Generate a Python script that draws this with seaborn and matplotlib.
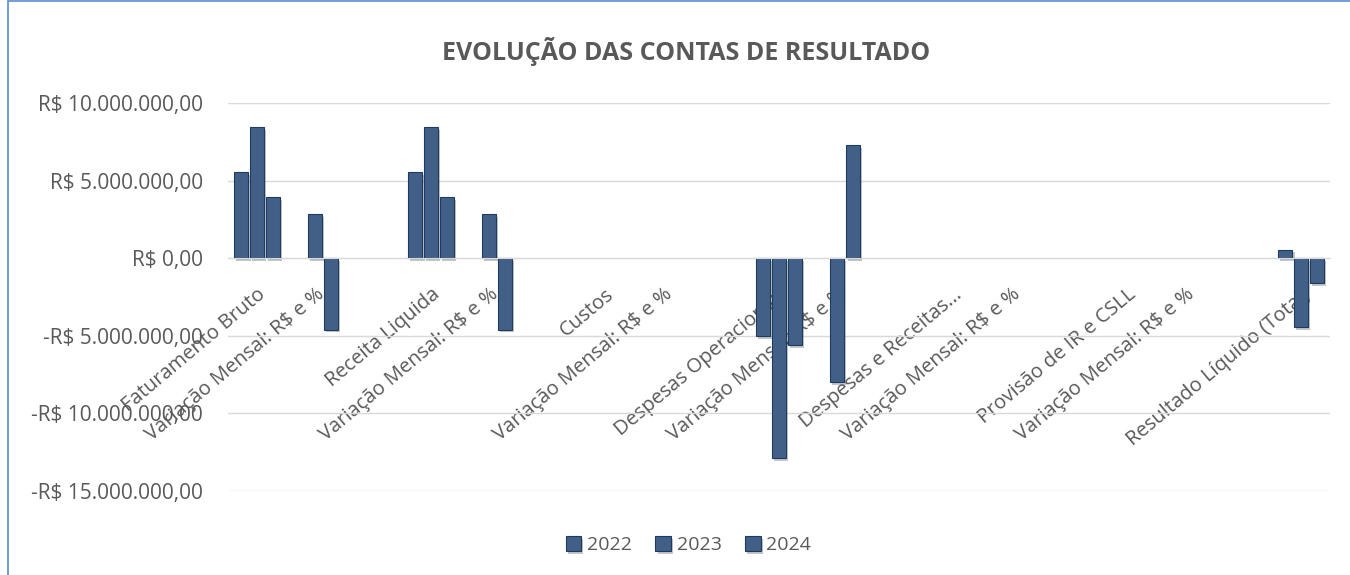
import matplotlib
matplotlib.use("Agg")
import matplotlib.pyplot as plt
import matplotlib.patheffects as pe
from matplotlib.patches import Rectangle
from matplotlib.ticker import FuncFormatter
import seaborn as sns
import pandas as pd

# categories (blank spacer columns between each pair, as in the sheet)
labels = ["Faturamento Bruto", "Variação Mensal: R$ e %", "",
          "Receita Liquida", "Variação Mensal: R$ e %", "",
          "Custos", "Variação Mensal: R$ e %", "",
          "Despesas Operacionais", "Variação Mensal: R$ e %", "",
          "Despesas e Receitas...", "Variação Mensal: R$ e %", "",
          "Provisão de IR e CSLL", "Variação Mensal: R$ e %", "",
          "Resultado Líquido (Total)"]
years = ["2022", "2023", "2024"]

# values in R$ (None = empty cell)
v2022 = [5570000, None, None, 5570000, None, None, None, None, None,
         -5000000, None, None, None, None, None, None, None, None, 550000]
v2023 = [8430000, 2820000, None, 8430000, 2820000, None, None, None, None,
         -12900000, -8000000, None, None, None, None, None, None, None, -4450000]
v2024 = [3920000, -4600000, None, 3920000, -4600000, None, None, None, None,
         -5600000, 7300000, None, None, None, None, None, None, None, -1600000]

keys = [str(i) for i in range(len(labels))]
df = pd.DataFrame({
    "cat": keys * 3,
    "ano": [y for y in years for _ in keys],
    "valor": v2022 + v2023 + v2024,
})

sns.set_style("white")
plt.rcParams["font.family"] = ["Open Sans", "DejaVu Sans"]
grey = "#595959"
bar_col = "#365F92"

fig = plt.figure(figsize=(13.5, 5.75), dpi=100)
ax = fig.add_axes([228 / 1350, 1 - 491 / 575, 1102 / 1350, 388 / 575])

sns.barplot(data=df, x="cat", y="valor", hue="ano", order=keys, hue_order=years,
            palette=[bar_col] * 3, width=0.82, gap=0.08, errorbar=None,
            edgecolor="#1F3B60", linewidth=0.8, ax=ax, legend=True)

for p in ax.patches:
    p.set_path_effects([pe.SimplePatchShadow(offset=(1.5, -2), alpha=0.25), pe.Normal()])

ax.set_ylim(-15000000, 10000000)
ax.set_yticks([10000000, 5000000, 0, -5000000, -10000000, -15000000])


def brl(v, pos):
    s = f"{abs(v):,.2f}".replace(",", "X").replace(".", ",").replace("X", ".")
    return ("-R$ " if v < 0 else "R$ ") + s


ax.yaxis.set_major_formatter(FuncFormatter(brl))
ax.grid(axis="y", color="#D9D9D9", linewidth=1)
ax.set_axisbelow(True)
for s in ["left", "right", "top"]:
    ax.spines[s].set_visible(False)
ax.spines["bottom"].set_position(("data", 0))
ax.spines["bottom"].set_color("#D9D9D9")
ax.tick_params(axis="y", length=0, labelsize=15, labelcolor=grey, pad=18)
ax.tick_params(axis="x", length=0, labelsize=14.5, labelcolor=grey, pad=19)
ax.set_xticks(range(len(labels)))
ax.set_xticklabels(labels, rotation=40, ha="right", rotation_mode="anchor")
ax.set_xlabel("")
ax.set_ylabel("")

fig.text(0.508, 1 - 52 / 575, "EVOLUÇÃO DAS CONTAS DE RESULTADO", ha="center", va="center",
         fontsize=18, fontweight="bold", color=grey)

h, l = ax.get_legend_handles_labels()
ax.legend(h, l, loc="center", bbox_to_anchor=(0.51, 1 - 545 / 575), bbox_transform=fig.transFigure,
          ncol=3, frameon=False, fontsize=14, labelcolor=grey, handlelength=0.8, handleheight=0.8,
          handletextpad=0.3, columnspacing=1.2)

# chart-area border
fig.patches.append(Rectangle((8 / 1350, -0.05), 1.1, 1.0 - 1 / 575 + 0.05, transform=fig.transFigure,
                             fill=False, edgecolor="#5B8BD0", linewidth=1.2))

fig.savefig("out.png", dpi=100)
